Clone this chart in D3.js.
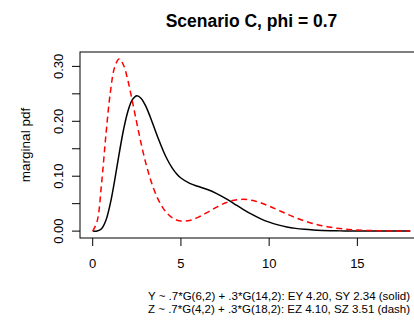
<!DOCTYPE html>
<html>
<head>
<meta charset="utf-8">
<script src="https://cdn.jsdelivr.net/npm/d3@7/dist/d3.min.js"></script>
<style>
  body { margin: 0; background: #fff; }
  svg text { font-family: "Liberation Sans", Arial, Helvetica, sans-serif; fill: #000; }
</style>
</head>
<body>
<svg id="chart" width="414" height="323"></svg>
<script>
// x grid the densities were read at
const xs = [0, 0.25, 0.5, 0.75, 1, 1.25, 1.5, 1.75, 2, 2.25, 2.5, 2.75, 3, 3.25, 3.5, 3.75,
  4, 4.25, 4.5, 4.75, 5, 5.5, 6, 6.5, 7, 7.5, 8, 8.5, 9, 9.5, 10, 10.5, 11, 11.5, 12,
  12.5, 13, 13.5, 14, 14.5, 15, 15.5, 16, 16.5, 17, 17.5, 18];

// Y (solid black)
const yPdf = [0, 0.00022, 0.00429, 0.0198, 0.05053, 0.09352, 0.14115, 0.18507, 0.21893,
  0.23949, 0.24645, 0.24162, 0.22799, 0.20887, 0.18732, 0.16579, 0.14601, 0.12903,
  0.11524, 0.10460, 0.09671, 0.08694, 0.08118, 0.07576, 0.06881, 0.06007, 0.05021,
  0.04020, 0.03089, 0.02286, 0.01635, 0.01132, 0.00762, 0.00499, 0.00319, 0.00200,
  0.00122, 0.00073, 0.00043, 0.00025, 0.00014, 0.00008, 0.00005, 0.00002, 0.00001,
  0.00001, 0];

// Z (red dashed)
const zPdf = [0, 0.01769, 0.08584, 0.17571, 0.25263, 0.29927, 0.31366, 0.30210, 0.27352,
  0.23621, 0.19653, 0.15868, 0.12500, 0.09650, 0.07334, 0.05515, 0.04135, 0.03132,
  0.02446, 0.02025, 0.01825, 0.01943, 0.02547, 0.03414, 0.04330, 0.05108, 0.05614,
  0.05782, 0.05618, 0.05181, 0.04558, 0.03843, 0.03117, 0.02442, 0.01852, 0.01364,
  0.00977, 0.00683, 0.00466, 0.00311, 0.00204, 0.00131, 0.00083, 0.00051, 0.00031,
  0.00019, 0.00011];

const xTicks = [0, 5, 10, 15];
const yTicks = [0, 0.05, 0.1, 0.15, 0.2, 0.25, 0.3];
const yLabels = [0, 0.1, 0.2, 0.3];

const title = "Scenario C, phi = 0.7";
const yTitle = "marginal pdf";
const captions = [
  "Y ~ .7*G(6,2) + .3*G(14,2): EY 4.20, SY 2.34 (solid)",
  "Z ~ .7*G(4,2) + .3*G(18,2): EZ 4.10, SZ 3.51 (dash)"
];

const svg = d3.select("#chart");
const box = {left: 80, right: 423, top: 52, bottom: 238};

// R style 4% padding around the data range
const xMax = d3.max(xs), yMax = d3.max(zPdf);
const x = d3.scaleLinear()
  .domain([-0.04 * xMax, xMax * 1.04])
  .range([box.left, box.right]);
const y = d3.scaleLinear()
  .domain([-0.04 * yMax, yMax * 1.04])
  .range([box.bottom, box.top]);

// plot frame
svg.append("rect")
  .attr("x", box.left).attr("y", box.top)
  .attr("width", box.right - box.left).attr("height", box.bottom - box.top)
  .attr("fill", "none").attr("stroke", "#000").attr("stroke-width", 1);

// x axis
const xAxis = svg.append("g").attr("transform", `translate(0,${box.bottom})`);
xAxis.selectAll("line").data(xTicks).join("line")
  .attr("x1", d => x(d)).attr("x2", d => x(d))
  .attr("y1", 0).attr("y2", 8)
  .attr("stroke", "#000");
xAxis.selectAll("text").data(xTicks).join("text")
  .attr("x", d => x(d)).attr("y", 30)
  .attr("text-anchor", "middle")
  .style("font-size", "13px")
  .text(d => d);

// y axis
const yAxis = svg.append("g").attr("transform", `translate(${box.left},0)`);
yAxis.selectAll("line").data(yTicks).join("line")
  .attr("x1", 0).attr("x2", -8)
  .attr("y1", d => y(d)).attr("y2", d => y(d))
  .attr("stroke", "#000");
yAxis.selectAll("text").data(yLabels).join("text")
  .attr("transform", d => `translate(-17,${y(d)}) rotate(-90)`)
  .attr("text-anchor", "middle")
  .style("font-size", "13px")
  .text(d => d3.format(".2f")(d));

svg.append("text")
  .attr("transform", `translate(30,${(box.top + box.bottom) / 2}) rotate(-90)`)
  .attr("text-anchor", "middle")
  .style("font-size", "13.5px")
  .text(yTitle);

svg.append("text")
  .attr("x", (box.left + box.right) / 2).attr("y", 27)
  .attr("text-anchor", "middle")
  .style("font-size", "17.5px").style("font-weight", "bold")
  .text(title);

// curves
const line = d3.line()
  .x(d => x(d[0]))
  .y(d => y(d[1]))
  .curve(d3.curveCatmullRom);

svg.append("defs").append("clipPath").attr("id", "clip")
  .append("rect")
  .attr("x", box.left).attr("y", box.top)
  .attr("width", box.right - box.left).attr("height", box.bottom - box.top);

const curves = svg.append("g").attr("clip-path", "url(#clip)");
curves.append("path")
  .datum(d3.zip(xs, yPdf))
  .attr("d", line)
  .attr("fill", "none")
  .attr("stroke", "#000")
  .attr("stroke-width", 1.5);

curves.append("path")
  .datum(d3.zip(xs, zPdf))
  .attr("d", line)
  .attr("fill", "none")
  .attr("stroke", "#ff0000")
  .attr("stroke-width", 1.5)
  .attr("stroke-dasharray", "6,4");

// caption under the plot
svg.append("g").selectAll("text").data(captions).join("text")
  .attr("x", 148)
  .attr("y", (d, i) => 300 + i * 13)
  .style("font-size", "11.5px")
  .text(d => d);
</script>
</body>
</html>
